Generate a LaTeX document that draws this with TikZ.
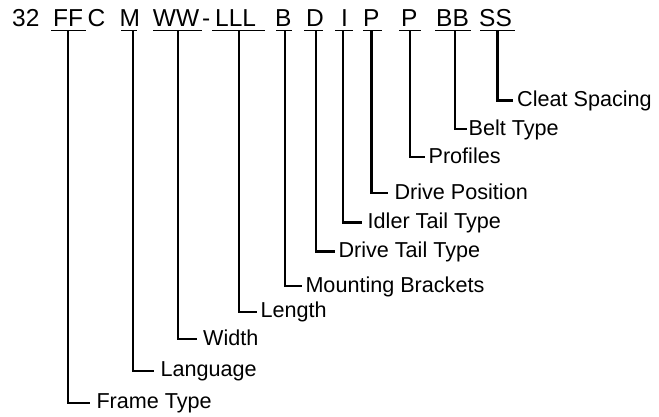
\documentclass[tikz,border=0pt]{standalone}
\usepackage{fontspec}
\setmainfont{Liberation Sans}
\begin{document}
\begin{tikzpicture}[x=1pt,y=1pt,
  code/.style={anchor=base west,inner sep=0pt,font=\fontsize{24.5}{28}\selectfont},
  lab/.style={anchor=base west,inner sep=0pt,font=\fontsize{21.6}{25}\selectfont},
  uline/.style={line width=1.7pt},
  conn/.style={line width=2.2pt}]
\useasboundingbox (0,0) rectangle (659,417);
% code string
\foreach \n/\x/\t in {a/12/32, b/53/FF, c/87.5/C, d/119.3/M, e/152.7/WW, f/202/-, g/215/LLL, h/275/B, i/306/D, j/341/I, k/363/P, m/401/P, n/436/BB, o/479/SS}
  {\node[code] (c\n) at (\x,390.3) {\t};}
% underlines
\foreach \n/\a/\b in {1/51/86, 2/121/137, 3/153/202, 4/212/265, 5/276/292, 6/304/323, 7/335/353, 8/363/382, 9/399/421, 10/435/471, 11/480/515}
  {\coordinate (ua\n) at (\a,386.5); \coordinate (ub\n) at (\b,386.5);
   \draw[uline] (ua\n) -- (ub\n);}
% branches
\foreach \n/\vx/\ly/\ex/\tx/\t in {
  1/68/14.3/90/96.3/Frame Type,
  2/133/46.3/154/160.3/Language,
  3/178/77.7/197/203/Width,
  4/239/105.3/257/260.3/Length,
  5/285/131/302/305.3/Mounting Brackets,
  6/316/165.5/335/338.3/Drive Tail Type,
  7/343/194.5/362/367.5/Idler Tail Type,
  8/371.5/224/388/394.4/Drive Position,
  9/410/260/425/428.4/Profiles,
  10/455/288/467/468.4/Belt Type,
  11/497.5/316.5/513/517/Cleat Spacing}
  {\coordinate (v\n) at (\vx,386.5);
   \coordinate (e\n) at (\ex,\ly);
   \node[lab] (l\n) at (\tx,\ly-6.2) {\t};
   \draw[conn] (v\n) |- (e\n);}
\end{tikzpicture}
\end{document}
